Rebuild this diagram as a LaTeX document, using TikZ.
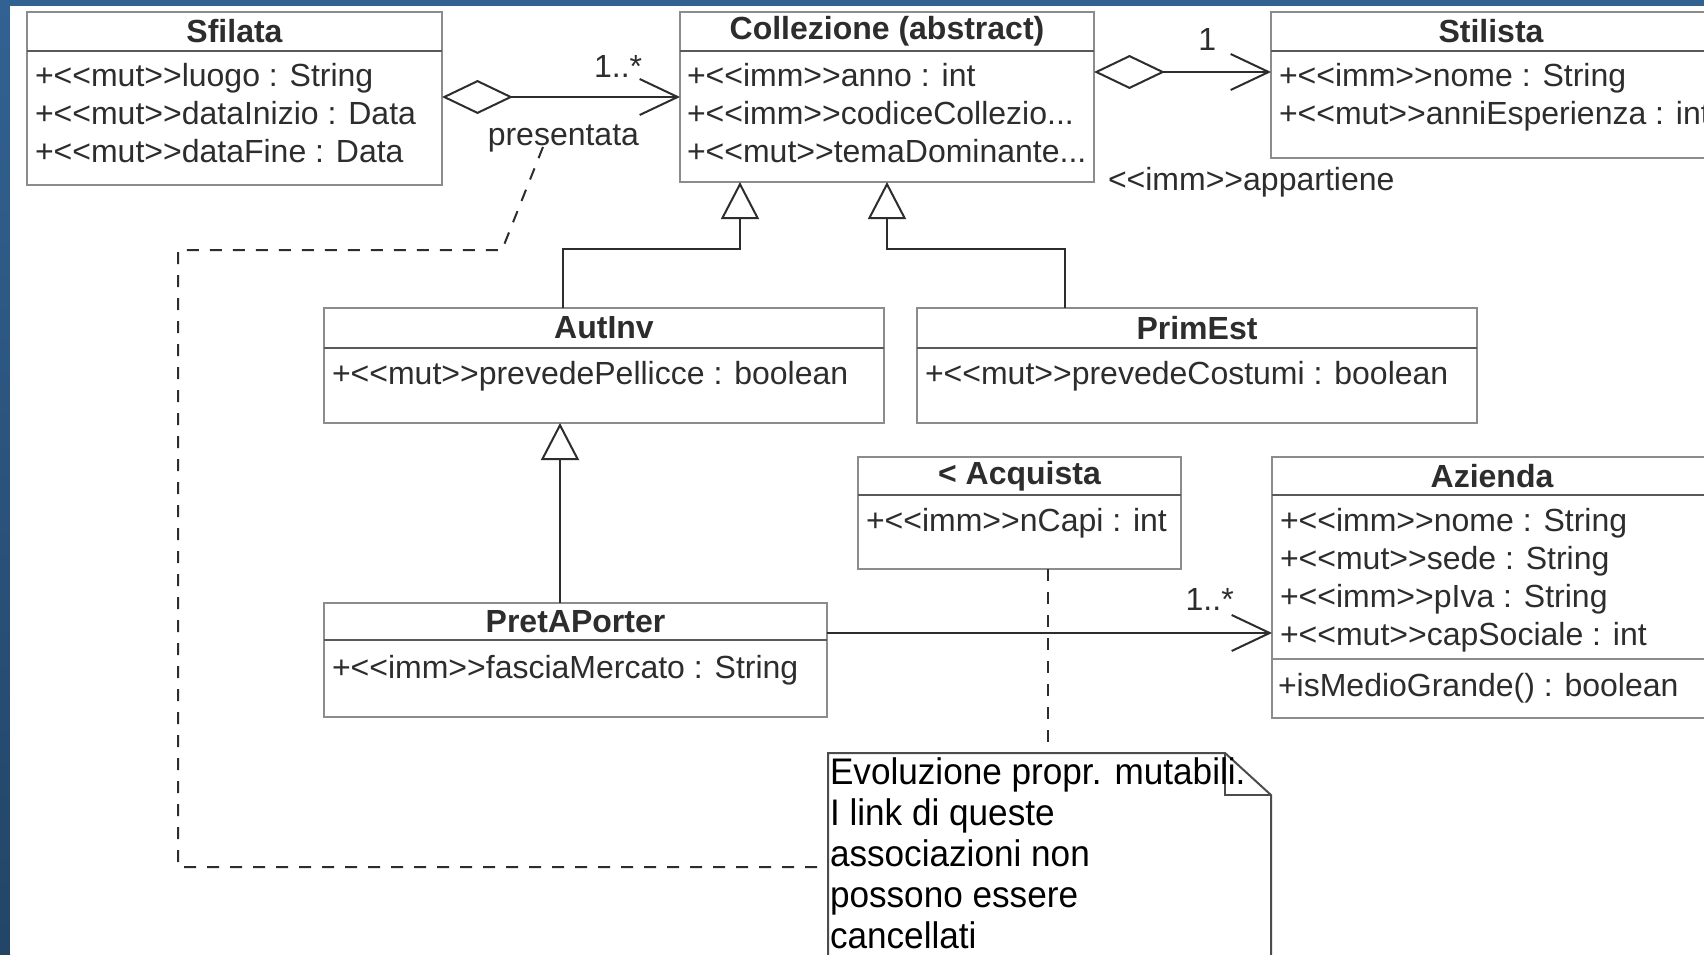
\documentclass[tikz,border=0pt]{standalone}
\usepackage{fontspec}
\setmainfont{Liberation Sans}
\newfontfamily\notefont{Liberation Sans}[FakeStretch=0.95]
\usetikzlibrary{arrows.meta, positioning}

\definecolor{frameblue}{RGB}{50,98,146}
\definecolor{boxgray}{RGB}{140,140,140}
\definecolor{inkgray}{RGB}{45,45,45}

% evita le legature << >> della mappatura TeX
\newcommand{\stereo}[1]{<\kern0pt<#1>\kern0pt>}

\begin{document}
\begin{tikzpicture}[x=0.5pt, y=-0.5pt,
    every node/.style={font=\fontsize{16}{19}\selectfont, text=inkgray, inner sep=0pt, outer sep=0pt},
    head/.style={draw=boxgray, line width=1pt, fill=white, minimum height=19.5pt, font=\fontsize{16}{19}\selectfont\bfseries},
    body/.style={draw=boxgray, line width=1pt, fill=white},
    attrs/.style={align=left, anchor=base west},
    sepline/.style={draw=black!65, line width=1.4pt},
    aggr/.style={draw=inkgray, line width=1pt, {Diamond[open, length=35.5pt, width=17pt]}-{Straight Barb[length=19pt, width=18pt]}},
    nav/.style={draw=inkgray, line width=1pt, -{Straight Barb[length=19pt, width=18pt]}},
    gen/.style={draw=inkgray, line width=1pt, -{Triangle[open, length=18.5pt, width=19pt]}},
    noteline/.style={draw=inkgray, line width=1pt, dash pattern=on 6pt off 5.5pt},
    notebox/.style={draw=black!70, line width=1pt},
    notetext/.style={align=left, anchor=base west, text=black, font=\notefont\fontsize{18.5}{20.4}\selectfont}]
    \useasboundingbox (0,0) rectangle (1704,954);
    \clip (0,0) rectangle (1704,954);

    % cornice blu
    \fill[frameblue] (0,0) rectangle (1704,954);
    \shade[top color=frameblue, bottom color=frameblue!70!black] (0,0) rectangle (10,954);
    \fill[white] (10,6) rectangle (1704,954);

    % Sfilata
    \node (sfilataHead) [head, minimum width=207.5pt, anchor=north west] at (27,12) {Sfilata};
    \node (sfilataBody) [body, minimum width=207.5pt, minimum height=67pt, below=0pt of sfilataHead] {};
    \draw[sepline] (sfilataHead.south west) -- (sfilataHead.south east);
    \node [attrs] at ([shift={(8,111)}]sfilataBody.north west) {+\stereo{mut}luogo : String\\+\stereo{mut}dataInizio : Data\\+\stereo{mut}dataFine : Data};

    % Collezione
    \node (collezioneHead) [head, minimum width=207pt, anchor=north west] at (680,12) {Collezione (abstract)};
    \node (collezioneBody) [body, minimum width=207pt, minimum height=65.5pt, below=0pt of collezioneHead] {};
    \draw[sepline] (collezioneHead.south west) -- (collezioneHead.south east);
    \node [attrs] at ([shift={(7,111)}]collezioneBody.north west) {+\stereo{imm}anno : int\\+\stereo{imm}codiceCollezio...\\+\stereo{mut}temaDominante...};

    % Stilista
    \node (stilistaHead) [head, minimum width=220pt, anchor=north west] at (1271,12) {Stilista};
    \node (stilistaBody) [body, minimum width=220pt, minimum height=53.5pt, below=0pt of stilistaHead] {};
    \draw[sepline] (stilistaHead.south west) -- (stilistaHead.south east);
    \node [attrs] at ([shift={(8,73)}]stilistaBody.north west) {+\stereo{imm}nome : String\\+\stereo{mut}anniEsperienza : int};

    % AutInv e PrimEst
    \node (autinvHead) [head, minimum width=280pt, minimum height=20pt, anchor=north west] at (324,308) {AutInv};
    \node (autinvBody) [body, minimum width=280pt, minimum height=37.5pt, below=0pt of autinvHead] {};
    \draw[sepline] (autinvHead.south west) -- (autinvHead.south east);
    \node [attrs] at ([shift={(8,36)}]autinvBody.north west) {+\stereo{mut}prevedePellicce : boolean};

    \node (primestHead) [head, minimum width=280pt, minimum height=20pt, right=16.5pt of autinvHead] {PrimEst};
    \node (primestBody) [body, minimum width=280pt, minimum height=37.5pt, below=0pt of primestHead] {};
    \draw[sepline] (primestHead.south west) -- (primestHead.south east);
    \node [attrs] at ([shift={(8,36)}]primestBody.north west) {+\stereo{mut}prevedeCostumi : boolean};

    % Acquista
    \node (acquistaHead) [head, minimum width=161.5pt, minimum height=19pt, anchor=north west] at (858,457) {< Acquista};
    \node (acquistaBody) [body, minimum width=161.5pt, minimum height=37pt, below=0pt of acquistaHead] {};
    \draw[sepline] (acquistaHead.south west) -- (acquistaHead.south east);
    \node [attrs] at ([shift={(8,36)}]acquistaBody.north west) {+\stereo{imm}nCapi : int};

    % Azienda
    \node (aziendaHead) [head, minimum width=220pt, minimum height=19pt, anchor=north west] at (1272,457) {Azienda};
    \node (aziendaAttr) [body, minimum width=220pt, minimum height=82pt, below=0pt of aziendaHead] {};
    \node (aziendaOps) [body, minimum width=220pt, minimum height=29.5pt, below=0pt of aziendaAttr] {};
    \draw[sepline] (aziendaHead.south west) -- (aziendaHead.south east);
    \node [attrs] at ([shift={(8,150)}]aziendaAttr.north west) {+\stereo{imm}nome : String\\+\stereo{mut}sede : String\\+\stereo{imm}pIva : String\\+\stereo{mut}capSociale : int};
    \node [attrs] at ([shift={(6,37)}]aziendaOps.north west) {+isMedioGrande() : boolean};

    % PretAPorter
    \node (pretHead) [head, minimum width=251.5pt, minimum height=18.5pt, anchor=north west] at (324,603) {PretAPorter};
    \node (pretBody) [body, minimum width=251.5pt, minimum height=38.5pt, below=0pt of pretHead] {};
    \draw[sepline] (pretHead.south west) -- (pretHead.south east);
    \node [attrs] at ([shift={(8,38)}]pretBody.north west) {+\stereo{imm}fasciaMercato : String};

    % nota
    \node (note) [anchor=north west, minimum width=221.5pt, minimum height=110pt] at (828,753) {};
    \fill[white] (note.south west) -- (note.north west) -- ([xshift=-23pt]note.north east) -- ([yshift=-21pt]note.north east) -- (note.south east) -- cycle;
    \draw[notebox] (note.south west) -- (note.north west) -- ([xshift=-23pt]note.north east) -- ([yshift=-21pt]note.north east) -- (note.south east) -- cycle;
    \draw[notebox] ([xshift=-23pt]note.north east) |- ([yshift=-21pt]note.north east);
    \node [notetext] at ([shift={(2,195)}]note.north west) {Evoluzione propr. mutabili.\\I link di queste\\associazioni non\\possono essere\\cancellati};

    % linee tratteggiate verso la nota
    \coordinate (presLink) at (543,147);
    \draw[noteline] (presLink) -- (502,250) -- (178,250) |- ([yshift=-2pt]note.west);
    \coordinate (acqLink) at ([xshift=14.25pt]acquistaBody.south);
    \draw[noteline] (acqLink) -- (acqLink |- note.north);

    % associazioni
    \draw[aggr] ([yshift=-23pt]sfilataBody.north east) -- ([yshift=-23pt]collezioneBody.north west)
        node[pos=0.74, above=10pt] {1..*}
        node[pos=0.51, below=14pt] (presentata) {presentata};
    \draw[aggr] ([yshift=-10.5pt]collezioneBody.north east) -- ([yshift=-10.5pt]stilistaBody.north west)
        node[pos=0.64, above=11pt] {1};
    \node [right=7pt of collezioneBody.south east] {\stereo{imm}appartiene};
    \coordinate (pretLink) at ([yshift=3.5pt]pretBody.north east);
    \draw[nav] (pretLink) -- (pretLink -| aziendaAttr.west)
        node[pos=0.86, above=11.5pt] {1..*};

    % generalizzazioni
    \draw[gen] ([xshift=-20.5pt]autinvHead.north) -- ++(0,-59) -| ([xshift=30pt]collezioneBody.south west);
    \draw[gen] ([xshift=-66pt]primestHead.north) -- ++(0,-59) -| (collezioneBody.south);
    \draw[gen] ([xshift=-7.75pt]pretHead.north) -- ([xshift=-22pt]autinvBody.south);
\end{tikzpicture}
\end{document}
